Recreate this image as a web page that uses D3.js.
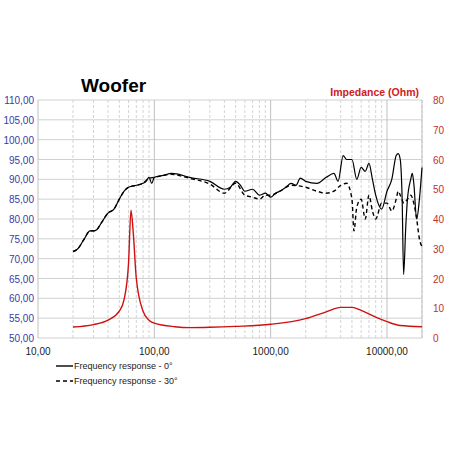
<!DOCTYPE html>
<html><head><meta charset="utf-8">
<script src="https://cdn.jsdelivr.net/npm/d3@7"></script>
<style>body{margin:0;background:#fff}text{font-family:"Liberation Sans",Arial,sans-serif}</style>
</head><body><svg id="c" width="452" height="452"></svg>
<script>
const resp0 = [[20,71.8],[22,72.5],[25,75],[28,77],[30,77],[32,77.3],[35,79],[40,81.5],[45,82.5],[50,85],[55,87],[60,88],[70,88.5],[80,89],[85,89.5],[90,90.5],[95,89],[100,90.5],[120,91],[140,91.5],[160,91.3],[200,90.5],[300,89.5],[400,87.5],[450,88],[500,89.5],[550,88.5],[600,87],[700,87.5],[800,86],[900,86.5],[1000,85.5],[1100,86.5],[1200,87],[1350,88],[1500,89],[1650,88.5],[1800,90.3],[2000,89.5],[2500,89],[3000,90.5],[3500,91.5],[3800,89.5],[4200,96],[4500,95],[5000,95],[5500,90],[6000,93],[6500,92],[7000,94],[7500,90],[8000,86],[9000,82.5],[10000,87],[11000,90],[12000,96],[12500,96.5],[13000,95],[13500,85],[13900,66],[14500,78],[15000,85],[16000,90],[16500,91.5],[17000,89],[18000,80],[19000,85],[20000,93]];
const resp30 = [[20,71.8],[22,72.5],[25,75],[28,77],[30,77],[32,77.3],[35,79],[40,81.5],[45,82.5],[50,85],[55,87],[60,88],[70,88.5],[80,89],[90,90.3],[100,90.5],[120,91],[140,91.3],[160,91],[200,90.3],[300,88.8],[400,86.5],[500,89],[600,86],[700,85.5],[800,85],[900,86],[1000,86],[1200,87],[1500,88.5],[2000,88],[2500,87],[3000,86.5],[3500,87],[4000,88.5],[4500,89],[5000,85],[5200,77],[5500,83],[6000,85],[6500,80],[7000,86],[7500,82],[8000,80],[9000,84],[10000,84],[11000,82],[12000,85],[12500,87],[13000,86],[14000,84],[15000,85],[16000,86],[17000,84],[18000,80],[19000,75],[20000,73]];
const impedance = [[20,3.7],[30,4.5],[40,6],[50,9],[55,13],[60,25],[63,43],[66,35],[70,20],[80,9],[90,6],[100,5],[150,3.8],[200,3.5],[300,3.6],[500,3.9],[1000,4.6],[2000,6.5],[3000,8.8],[4000,10.3],[5000,10.3],[6000,9.3],[8000,7],[10000,5.5],[13000,4.2],[20000,3.8]];
const dbTicks = d3.range(50, 111, 5);
const ohmTicks = d3.range(0, 81, 10);
const freqTicks = [10, 100, 1000, 10000];

const svg = d3.select("#c");
const x = d3.scaleLog().domain([10, 20000]).range([38, 422]);
const y = d3.scaleLinear().domain([50, 110]).range([338, 100]);
const yr = d3.scaleLinear().domain([0, 80]).range([338, 100]);
const fmt = d => d.toFixed(2).replace(".", ",");

// grid
const minor = [];
[10, 100, 1000, 10000].forEach(p => d3.range(2, 10).forEach(k => { if (p * k <= 20000) minor.push(p * k); }));
svg.append("g").selectAll("line").data(minor).join("line")
  .attr("x1", d => x(d)).attr("x2", d => x(d)).attr("y1", 100).attr("y2", 338)
  .attr("stroke", "#d4d4d4").attr("stroke-dasharray", "3,2");
svg.append("g").selectAll("line").data(dbTicks).join("line")
  .attr("x1", 38).attr("x2", 422).attr("y1", d => y(d)).attr("y2", d => y(d))
  .attr("stroke", "#d0d0d0");
svg.append("g").selectAll("line").data(freqTicks).join("line")
  .attr("x1", d => x(d)).attr("x2", d => x(d)).attr("y1", 100).attr("y2", 338)
  .attr("stroke", "#c0c0c0");
svg.append("line").attr("x1", 422).attr("x2", 422).attr("y1", 100).attr("y2", 338).attr("stroke", "#c0c0c0");

// axes labels
svg.append("g").selectAll("text").data(dbTicks).join("text")
  .attr("x", 34).attr("y", d => y(d) + 4).attr("text-anchor", "end")
  .attr("font-size", 10).attr("fill", "#3a3aa6").text(fmt);
svg.append("g").selectAll("text").data(ohmTicks).join("text")
  .attr("x", 433).attr("y", d => yr(d) + 4)
  .attr("font-size", 10).attr("fill", "#c03030").text(d => d);
svg.append("g").selectAll("text").data(freqTicks).join("text")
  .attr("x", d => x(d)).attr("y", 355).attr("text-anchor", "middle")
  .attr("font-size", 10).attr("fill", "#222").text(fmt);

// series
const line = d3.line().x(d => x(d[0])).y(d => y(d[1])).curve(d3.curveMonotoneX);
const lineR = d3.line().x(d => x(d[0])).y(d => yr(d[1])).curve(d3.curveMonotoneX);
svg.append("path").attr("d", lineR(impedance)).attr("fill", "none").attr("stroke", "#d01010").attr("stroke-width", 1.4);
svg.append("path").attr("d", line(resp30)).attr("fill", "none").attr("stroke", "#000").attr("stroke-width", 1.4).attr("stroke-dasharray", "4,3");
svg.append("path").attr("d", line(resp0)).attr("fill", "none").attr("stroke", "#000").attr("stroke-width", 1.2);

// titles
svg.append("text").attr("x", 81).attr("y", 92).attr("font-size", 19).attr("font-weight", "bold").text("Woofer");
svg.append("text").attr("x", 419).attr("y", 96).attr("text-anchor", "end").attr("font-size", 10.5)
  .attr("font-weight", "bold").attr("fill", "#d02020").text("Impedance (Ohm)");

// legend
const legend = [["Frequency response - 0°", null], ["Frequency response - 30°", "4,3"]];
legend.forEach((l, i) => {
  const ly = 366 + i * 15;
  svg.append("line").attr("x1", 56).attr("x2", 73).attr("y1", ly).attr("y2", ly)
    .attr("stroke", "#000").attr("stroke-width", 1.4).attr("stroke-dasharray", l[1]);
  svg.append("text").attr("x", 74).attr("y", ly + 3).attr("font-size", 9).attr("fill", "#222").text(l[0]);
});
</script></body></html>
